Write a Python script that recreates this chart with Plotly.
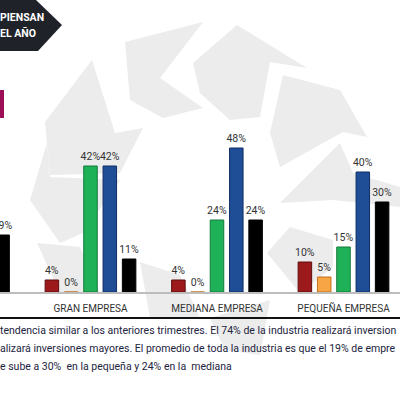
import plotly.graph_objects as go

# ---- data ----
categories = ["TOTAL INDUSTRIA", "GRAN EMPRESA", "MEDIANA EMPRESA", "PEQUEÑA EMPRESA"]
series_names = ["Serie A", "Serie B", "Serie C", "Serie D", "Serie E"]
serie_a = [6, 4, 4, 10]
serie_b = [2, 0, 0, 5]
serie_c = [27, 42, 24, 15]
serie_d = [46, 42, 48, 40]
serie_e = [19, 11, 24, 30]
series_values = [serie_a, serie_b, serie_c, serie_d, serie_e]

colors = ["#9c1a1c", "#f7a545", "#1fb157", "#1f4e96", "#000000"]
edges = ["#5e0d0e", "#c0701a", "#137a3b", "#0f2f66", "#000000"]

header_lines = ["PIENSAN", "EL AÑO"]
note_lines = [
    "tendencia similar a los anteriores trimestres. El 74% de la industria realizará inversion",
    "alizará inversiones mayores. El promedio de toda la industria es que el 19% de empre",
    "e sube a 30%  en la pequeña y 24% en la  mediana",
]

W, H = 400, 394
PT, PB = 112, 292  # plot area top/bottom in px
FONT = "Roboto"


def px(x, y):
    return x / W, (PB - y) / (PB - PT)


fig = go.Figure()
for name, vals, c, e in zip(series_names, series_values, colors, edges):
    fig.add_trace(go.Bar(
        x=categories, y=vals, name=name,
        marker=dict(color=c, line=dict(color=e, width=1)),
        text=[f"{v}%" for v in vals], textposition="outside",
        constraintext="none",
        textfont=dict(size=10.5, color="#333333", family=FONT),
        cliponaxis=False, showlegend=False,
    ))

shapes = []
# watermark polygons (decorative)
wm = [
    [(45, 122), (92, 60), (115, 133), (143, 128), (120, 173), (50, 175)],
    [(47, 143), (50, 177), (120, 180), (83, 233), (60, 243), (30, 200)],
    [(125, 42), (203, 22), (160, 78), (203, 108), (163, 118), (130, 100)],
    [(193, 63), (237, 25), (307, 68), (270, 62), (260, 117), (230, 120), (200, 93)],
    [(283, 75), (340, 90), (367, 137), (343, 132), (280, 167), (270, 133)],
    [(280, 203), (340, 143), (353, 173), (400, 187), (400, 207), (333, 200)],
    [(267, 253), (290, 227), (333, 240), (333, 267), (300, 293)],
    [(37, 243), (80, 247), (100, 293), (60, 293)],
    [(140, 262), (180, 275), (200, 318), (150, 318)],
    [(210, 318), (270, 300), (260, 355), (225, 350)],
]
for poly in wm:
    pts = [px(x, y) for x, y in poly]
    path = "M " + " L ".join(f"{a:.4f},{b:.4f}" for a, b in pts) + " Z"
    shapes.append(dict(type="path", path=path, xref="paper", yref="paper",
                       fillcolor="#ececec", line=dict(width=0), layer="below"))

# header pentagon
pent = [px(x, y) for x, y in [(0, 0), (36, 0), (62, 25), (38, 51), (0, 51)]]
shapes.append(dict(type="path", xref="paper", yref="paper",
                   path="M " + " L ".join(f"{a:.4f},{b:.4f}" for a, b in pent) + " Z",
                   fillcolor="#1f2329", line=dict(width=0)))
# magenta marker
x0, y0 = px(0, 90); x1, y1 = px(4, 118)
shapes.append(dict(type="rect", xref="paper", yref="paper", x0=x0, y0=y0, x1=x1, y1=y1,
                   fillcolor="#9c0e55", line=dict(width=0)))
# separator line
_, ys = px(0, 318)
shapes.append(dict(type="line", xref="paper", yref="paper", x0=0, x1=1, y0=ys, y1=ys,
                   line=dict(color="#111111", width=2)))

annotations = []
for i, t in enumerate(header_lines):
    _, yy = px(0, 17 + 16 * i)
    annotations.append(dict(text=f"<b>{t}</b>", xref="paper", yref="paper", x=-0.005, y=yy,
                            xanchor="left", yanchor="middle", showarrow=False,
                            font=dict(size=10.5, color="white", family=FONT)))
for i, t in enumerate(note_lines):
    _, yy = px(0, 330 + 18 * i)
    annotations.append(dict(text=t, xref="paper", yref="paper", x=-0.006, y=yy,
                            xanchor="left", yanchor="middle", showarrow=False,
                            font=dict(size=10.5, color="#1c2440", family=FONT)))

fig.update_layout(
    width=W, height=H,
    margin=dict(l=0, r=0, t=PT, b=H - PB, pad=0),
    paper_bgcolor="white", plot_bgcolor="rgba(0,0,0,0)",
    barmode="group", bargap=0.237, bargroupgap=0.3,
    shapes=shapes, annotations=annotations,
    xaxis=dict(type="category", range=[1 - 90.5 / 126.5, 1 + 309.5 / 126.5],
               showline=True, linecolor="#bdbdbd", linewidth=1.5, showgrid=False,
               ticks="", ticklabelstandoff=6,
               tickfont=dict(size=10, color="#333333", family=FONT)),
    yaxis=dict(range=[0, 60], visible=False, fixedrange=True),
    showlegend=False,
)

fig.write_html("out.html", config={"displayModeBar": False},
               post_script="document.body.style.margin='0';document.body.style.padding='0';")
